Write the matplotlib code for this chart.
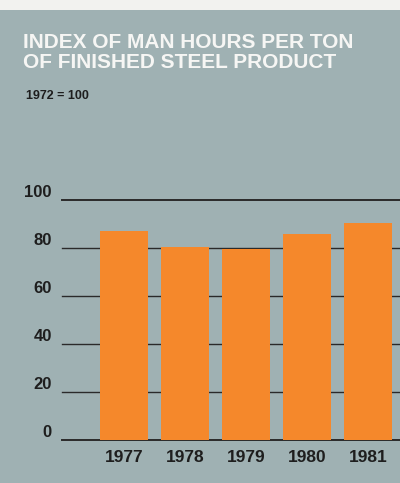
import matplotlib.pyplot as plt
from matplotlib.patches import Rectangle

years = ["1977", "1978", "1979", "1980", "1981"]
index_values = [87, 80.5, 79.5, 86, 90.5]
y_ticks = [0, 20, 40, 60, 80, 100]

W, H = 400, 483
bg = "#9fb1b3"
bar_color = "#f5882b"
ink = "#1e1e1e"

fig = plt.figure(figsize=(W / 100, H / 100), dpi=100)
fig.patch.set_facecolor(bg)

# pale paper strip along the top edge
fig.add_artist(Rectangle((0, 1 - 10 / H), 1, 10 / H, transform=fig.transFigure,
                         facecolor="#f2f2ef", edgecolor="none"))

fig.text(23 / W, 1 - 42 / H, "INDEX OF MAN HOURS PER TON", color="#f6f6f4",
         fontsize=15, fontfamily="Liberation Sans", fontweight="bold", va="center")
fig.text(23 / W, 1 - 63 / H, "OF FINISHED STEEL PRODUCT", color="#f6f6f4",
         fontsize=15, fontfamily="Liberation Sans", fontweight="bold", va="center")
fig.text(26 / W, 1 - 96 / H, "1972 = 100", color=ink,
         fontsize=9, fontfamily="Liberation Sans", fontweight="bold", va="center")

# axes spans x 62..400 px, y 440 (0) .. 200 (100) px
ax = fig.add_axes([62 / W, 1 - 440 / H, (W - 62) / W, 240 / H])
ax.set_facecolor("none")
ax.set_xlim(-1.02, 4.52)
ax.set_ylim(0, 100)

for v in y_ticks:
    lw = 1.4 if v in (0, 100) else 1.0
    ax.axhline(v, color="#2a2a2a", lw=lw, zorder=1, clip_on=False)
    ax.text(-1.02 - 0.17, v + 3, str(v), ha="right", va="center", color=ink,
            fontsize=12, fontfamily="Liberation Sans", fontweight="bold", clip_on=False)

x = list(range(len(years)))
ax.bar(x, index_values, width=0.79, color=bar_color, zorder=2)

for i, lab in enumerate(years):
    ax.text(i, -7.5, lab, ha="center", va="center", color=ink,
            fontsize=12.5, fontfamily="Liberation Sans", fontweight="bold", clip_on=False)

ax.set_xticks([])
ax.set_yticks([])
for s in ax.spines.values():
    s.set_visible(False)

fig.savefig("out.png", dpi=100, facecolor=bg)
